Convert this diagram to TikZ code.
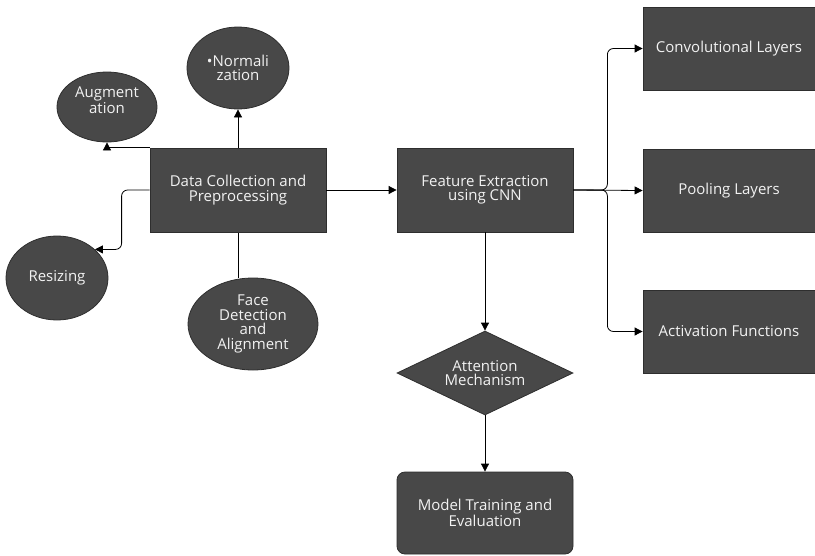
\documentclass[tikz,border=0pt]{standalone}
\usepackage{fontspec}
\setmainfont{Open Sans}
\usetikzlibrary{shapes.geometric,arrows.meta,backgrounds}
\definecolor{boxfill}{HTML}{484848}
\definecolor{boxline}{HTML}{2E2E2E}
\definecolor{txt}{HTML}{F2F2F2}
\tikzset{
  lbl/.style={text=txt, align=center, font=\fontsize{15pt}{14.5pt}\selectfont, inner sep=0pt},
  base/.style={lbl, fill=boxfill, draw=boxline, line width=0.8pt},
  rectbox/.style={base, rectangle, minimum width=176pt, minimum height=84pt},
  sidebox/.style={base, rectangle, minimum width=172pt, minimum height=83pt},
  roundbox/.style={rectbox, rounded corners=8pt},
  ellbox/.style={base, ellipse},
  diabox/.style={base, diamond, minimum width=176pt, minimum height=84pt, aspect=2.1},
  arr/.style={line width=0.8pt, -{Triangle[length=8pt,width=8pt]}},
  ln/.style={line width=0.8pt},
}
\begin{document}
\begin{tikzpicture}[x=1pt,y=-1pt]
\useasboundingbox (0,0) rectangle (815,555);
\node[rectbox] (data) at (238,190) {Data Collection and\\Preprocessing};
\node[rectbox] (feat) at (485,190) {Feature Extraction\\using CNN};
\node[sidebox] (conv) at (729,48.5) {Convolutional Layers};
\node[sidebox] (pool) at (729,190.5) {Pooling Layers};
\node[sidebox] (act) at (729,331.5) {Activation Functions};
\node[diabox] (att) at (485,373) {Attention\\Mechanism};
\node[roundbox, minimum height=82pt] (model) at (485,513) {Model Training and\\Evaluation};
\node[ellbox, minimum width=100pt, minimum height=70pt] (aug) at (107,107) {};
\node[lbl] (augtxt) at (107,100) {Augment\\ation};
\node[ellbox, minimum width=102pt, minimum height=82pt] (norm) at (238,68) {•Normali\\zation};
\node[ellbox, minimum width=102pt, minimum height=84pt] (resize) at (57,278) {Resizing};
\node[ellbox, minimum width=130pt, minimum height=92pt] (face) at (253,324) {Face\\Detection\\and\\Alignment};
\begin{scope}[on background layer]
\draw[ln] (data.south) -- (data.south |- face.north);
\end{scope}
\draw[arr] (data.north) -- (norm.south);
\draw[arr] (data.north west) -| (aug.south);
\draw[arr, rounded corners=6pt] (data.west) -- ++(-28,0) |- (resize.37);
\draw[arr] (data.east) -- (feat.west);
\draw[arr] (feat.south) -- (att.north);
\draw[arr] (att.south) -- (model.north);
\draw[arr, rounded corners=6pt] (feat.east) -- ++(34,0) |- (conv.west);
\draw[arr] (feat.east) -- (pool.west);
\draw[arr, rounded corners=6pt] (feat.east) -- ++(34,0) |- (act.west);
\end{tikzpicture}
\end{document}
